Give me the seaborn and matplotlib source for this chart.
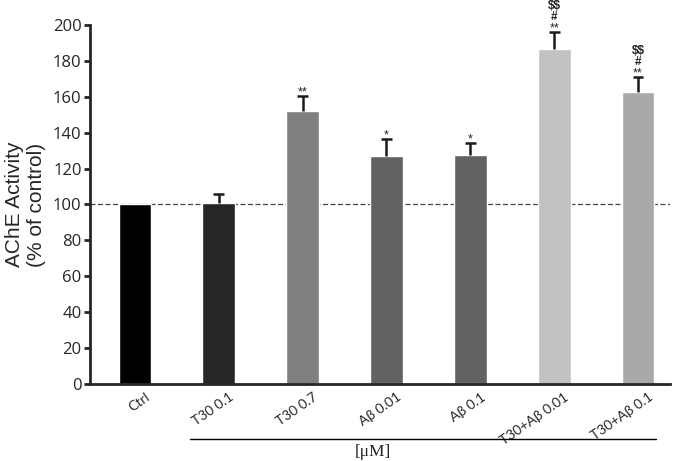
import matplotlib
matplotlib.use('Agg')
import matplotlib.pyplot as plt
import matplotlib.transforms as mtransforms
import numpy as np
import pandas as pd
import seaborn as sns

groups = ['Ctrl', 'T30 0.1', 'T30 0.7', 'Aβ 0.01', 'Aβ 0.1', 'T30+Aβ 0.01', 'T30+Aβ 0.1']
activity = [100, 101, 152, 127, 127.5, 186.5, 162.5]
sem = [0, 5, 8.5, 9.5, 6.5, 9.5, 8.5]
marks = [[], [], ['**'], ['*'], ['*'], ['**', '#', '$$'], ['**', '#', '$$']]
colors = ['#000000', '#262626', '#808080', '#626262', '#626262', '#c2c2c2', '#a9a9a9']

df = pd.DataFrame({'group': groups, 'activity': activity})

sns.set_style('ticks')
fig = plt.figure(figsize=(6.76, 4.61), dpi=100)
ax = fig.add_axes([0.133, 0.167, 0.858, 0.779])

sns.barplot(data=df, x='group', y='activity', hue='group', palette=colors,
            width=0.39, legend=False, ax=ax, saturation=1)

x = np.arange(len(groups))
tops = np.array(activity) + np.array(sem)
has_err = np.array(sem) > 0
ax.vlines(x[has_err], np.array(activity)[has_err], tops[has_err],
          color='#1a1a1a', lw=1.8, zorder=3)
ax.hlines(tops[has_err], x[has_err] - 0.065, x[has_err] + 0.065,
          color='#1a1a1a', lw=1.8, zorder=3)

# significance marks, stacked bottom to top (baselines)
offsets = [0.3, 6.6, 12.8]
for xi, top, ms in zip(x, tops, marks):
    for k, m in enumerate(ms):
        star = m.startswith('*')
        ax.text(xi, top + offsets[k], m, ha='center', va='baseline',
                fontsize=9 if star else 8.5,
                fontweight='normal' if star else 'bold',
                color='#222222', family='Liberation Sans',
                parse_math=False, clip_on=False)

ax.axhline(100, color='#444444', lw=0.9, ls=(0, (4, 2)), zorder=0.5)

ax.set_xlim(-0.536, 6.38)
ax.set_ylim(0, 200)
ax.set_yticks(range(0, 201, 20))
ax.set_xlabel('')
ax.set_ylabel('AChE Activity\n(% of control)', fontsize=15,
              family='Liberation Sans', labelpad=5)

for s in ['top', 'right']:
    ax.spines[s].set_visible(False)
for s in ['left', 'bottom']:
    ax.spines[s].set_linewidth(2)
ax.tick_params(axis='y', width=2, length=4, labelsize=12, pad=2)
ax.tick_params(axis='x', length=0, pad=5)
for lab in ax.get_yticklabels():
    lab.set_family('Open Sans')
ax.set_xticks(x)
ax.set_xticklabels(groups, rotation=35, ha='right', va='top',
                   fontsize=10, family='Lato')
shift = mtransforms.ScaledTranslation(17 / 100, 0, fig.dpi_scale_trans)
for lab in ax.get_xticklabels():
    lab.set_transform(lab.get_transform() + shift)

# bracket under the concentration labels
fig.add_artist(plt.Line2D([190 / 676, 656 / 676], [1 - 439 / 461, 1 - 439 / 461],
                          color='black', lw=1))
fig.text(373 / 676, 1 - 452 / 461, '[μM]', ha='center', va='center',
         fontsize=12.5, family='Liberation Serif')

fig.savefig('out.png', dpi=100)
